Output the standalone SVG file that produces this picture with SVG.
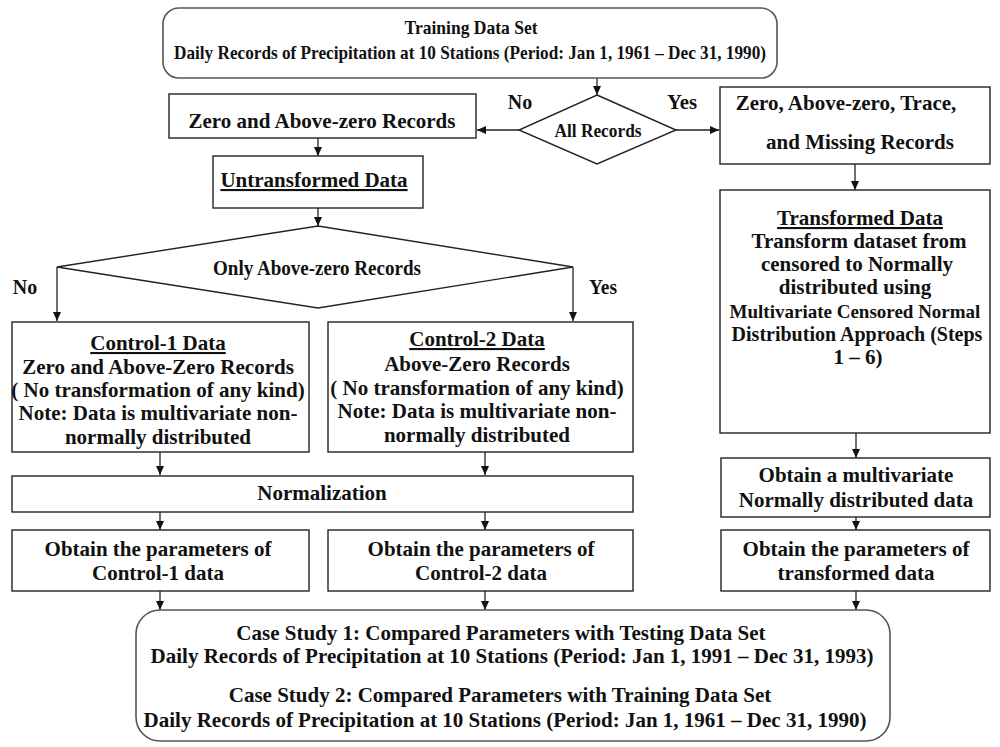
<svg xmlns="http://www.w3.org/2000/svg" width="1000" height="747" viewBox="0 0 1000 747">
<defs>
<marker id="ah" markerWidth="10" markerHeight="8" refX="9" refY="4" orient="auto" markerUnits="userSpaceOnUse">
<path d="M0,0 L9,4 L0,8 z" fill="#111"/>
</marker>
<style>
.box{fill:#fff;stroke:#222;stroke-width:1.4}
.rbox{fill:#fff;stroke:#555;stroke-width:1.6}
.t{font-family:"Liberation Serif","Times New Roman",serif;font-weight:bold;font-size:21px;fill:#111;text-anchor:middle}
.sm{font-size:19.5px}
.md{font-size:20px}
.u{text-decoration:underline}
.c{fill:none;stroke:#222;stroke-width:1.3;marker-end:url(#ah)}
</style>
</defs>
<rect width="1000" height="747" fill="#fff"/>

<g id="connectors">
<path class="c" d="M597,78 V95"/>
<path class="c" d="M519,130 H477"/>
<path class="c" d="M676,130 H719"/>
<path class="c" d="M318,138 V156"/>
<path class="c" d="M318,208 V226"/>
<path class="c" d="M57,267 V321"/>
<path class="c" d="M573,267 V321"/>
<path class="c" d="M855,164 V190"/>
<path class="c" d="M160,452 V475"/>
<path class="c" d="M485,452 V475"/>
<path class="c" d="M160,512 V530"/>
<path class="c" d="M485,512 V530"/>
<path class="c" d="M856,433 V458"/>
<path class="c" d="M856,517 V530"/>
<path class="c" d="M160,591 V610"/>
<path class="c" d="M485,591 V610"/>
<path class="c" d="M856,591 V610"/>
</g>

<g id="training">
<rect class="rbox" x="163" y="8" width="614" height="70" rx="16"/>
<text class="t sm" x="471" y="34" textLength="133" lengthAdjust="spacingAndGlyphs">Training Data Set</text>
<text class="t sm" x="470" y="59" textLength="592" lengthAdjust="spacingAndGlyphs">Daily Records of Precipitation at 10 Stations (Period: Jan 1, 1961 – Dec 31, 1990)</text>
</g>

<g id="all-records">
<polygon class="box" points="597,95 676,130 597,164 519,130"/>
<text class="t sm" x="598" y="137" textLength="87" lengthAdjust="spacingAndGlyphs">All Records</text>
<text class="t md" x="520" y="109">No</text>
<text class="t md" x="682" y="109" textLength="30" lengthAdjust="spacingAndGlyphs">Yes</text>
</g>

<g id="zero-above">
<rect class="box" x="169" y="94" width="307" height="44"/>
<text class="t" x="322" y="128">Zero and Above-zero Records</text>
</g>

<g id="untransformed">
<rect class="box" x="213" y="156" width="210" height="52"/>
<text class="t u" x="314" y="187">Untransformed Data</text>
</g>

<g id="only-above">
<polygon class="box" points="318,226 573,267 318,308 57,267"/>
<text class="t md" x="317" y="275" textLength="208" lengthAdjust="spacingAndGlyphs">Only Above-zero Records</text>
<text class="t md" x="25" y="294">No</text>
<text class="t md" x="603" y="294" textLength="28" lengthAdjust="spacingAndGlyphs">Yes</text>
</g>

<g id="control1">
<rect class="box" x="12" y="322" width="297" height="130"/>
<text class="t u" x="158" y="350">Control-1 Data</text>
<text class="t" x="158" y="374">Zero and Above-Zero Records</text>
<text class="t" x="158" y="397">( No transformation of any kind)</text>
<text class="t" x="158" y="420">Note: Data is multivariate non-</text>
<text class="t" x="158" y="444">normally distributed</text>
</g>

<g id="control2">
<rect class="box" x="328" y="322" width="305" height="130"/>
<text class="t u" x="477" y="346">Control-2 Data</text>
<text class="t" x="477" y="371">Above-Zero Records</text>
<text class="t" x="477" y="395">( No transformation of any kind)</text>
<text class="t" x="477" y="418">Note: Data is multivariate non-</text>
<text class="t" x="477" y="442">normally distributed</text>
</g>

<g id="missing">
<rect class="box" x="720" y="87" width="270" height="77"/>
<text class="t" x="846" y="110">Zero, Above-zero, Trace,</text>
<text class="t" x="860" y="149">and Missing Records</text>
</g>

<g id="transformed">
<rect class="box" x="720" y="190" width="270" height="243"/>
<text class="t u" x="860" y="225">Transformed Data</text>
<text class="t" x="859" y="248">Transform dataset from</text>
<text class="t" x="857" y="271">censored to Normally</text>
<text class="t" x="855" y="294">distributed  using</text>
<text class="t" x="855" y="318" style="font-size:19px">Multivariate Censored Normal</text>
<text class="t" x="857" y="341" style="font-size:20px">Distribution Approach (Steps</text>
<text class="t" x="858" y="364">1 – 6)</text>
</g>

<g id="normalization">
<rect class="box" x="12" y="476" width="621" height="36"/>
<text class="t" x="322" y="500">Normalization</text>
</g>

<g id="multivariate">
<rect class="box" x="721" y="458" width="269" height="59"/>
<text class="t" x="856" y="482">Obtain a multivariate</text>
<text class="t" x="856" y="507">Normally distributed data</text>
</g>

<g id="params1">
<rect class="box" x="12" y="530" width="297" height="61"/>
<text class="t" x="158" y="556">Obtain the parameters of</text>
<text class="t" x="158" y="580">Control-1 data</text>
</g>

<g id="params2">
<rect class="box" x="328" y="530" width="305" height="61"/>
<text class="t" x="481" y="556">Obtain the parameters of</text>
<text class="t" x="481" y="580">Control-2 data</text>
</g>

<g id="params3">
<rect class="box" x="721" y="530" width="269" height="61"/>
<text class="t" x="856" y="556">Obtain the parameters of</text>
<text class="t" x="856" y="580">transformed data</text>
</g>

<g id="case-study">
<rect class="rbox" x="136" y="610" width="754" height="131" rx="24"/>
<text class="t" x="501" y="640">Case Study 1: Compared Parameters with Testing Data Set</text>
<text class="t" x="512" y="663">Daily Records of Precipitation at 10 Stations (Period: Jan 1, 1991 – Dec 31, 1993)</text>
<text class="t" x="500" y="702">Case Study 2: Compared Parameters with Training Data Set</text>
<text class="t" x="505" y="727">Daily Records of Precipitation at 10 Stations (Period: Jan 1, 1961 – Dec 31, 1990)</text>
</g>
</svg>
